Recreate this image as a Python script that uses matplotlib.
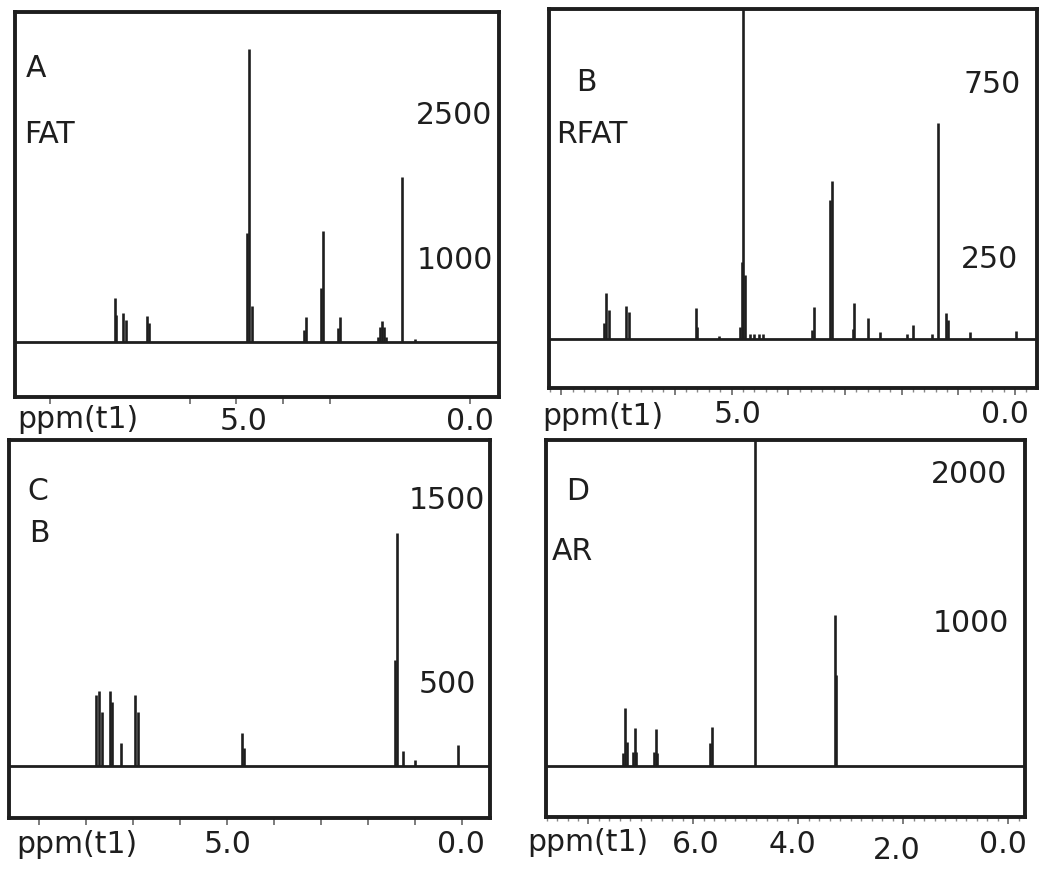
import matplotlib
matplotlib.use("Agg")
import matplotlib.pyplot as plt
import matplotlib.transforms as mtransforms
import numpy as np

plt.rcParams['font.family'] = ['DejaVu Sans']

# ---------------- data ----------------
# Panel A: FAT
a_ppm = [7.60, 7.57, 7.42, 7.37, 6.92, 6.87, 4.78, 4.74, 4.67, 3.55, 3.51,
         3.20, 3.15, 2.83, 2.78, 1.97, 1.92, 1.88, 1.84, 1.79, 1.45, 1.18]
a_int = [590, 411, 428, 359, 400, 331, 1258, 3162, 504, 255, 393,
         687, 1280, 276, 393, 180, 290, 352, 290, 180, 1841, 165]
a_base = 130
a_ylabels = [2500, 1000]

# Panel B: RFAT
b_ppm = [7.25, 7.21, 7.16, 6.86, 6.81, 5.63, 5.60, 5.22, 4.85, 4.81, 4.79,
         4.76, 4.68, 4.60, 4.52, 4.45, 3.58, 3.55, 3.26, 3.22, 2.86, 2.83,
         2.60, 2.38, 1.91, 1.79, 1.47, 1.35, 1.22, 1.18, 0.79, -0.02]
b_int = [61, 147, 98, 109, 93, 104, 50, 23, 50, 236, 1000,
         198, 31, 31, 31, 31, 41, 106, 412, 469, 45, 117,
         74, 36, 29, 55, 31, 633, 91, 69, 36, 38]
b_base = 15
b_ylabels = [750, 250]

# Panel C: B
c_ppm = [7.79, 7.72, 7.66, 7.48, 7.43, 7.25, 6.95, 6.89, 4.67, 4.63,
         1.41, 1.38, 1.24, 0.99, 0.07]
c_int = [429, 451, 339, 451, 392, 167, 429, 339, 225, 141,
         620, 1308, 125, 76, 158]
c_base = 43
c_ylabels = [1500, 500]

# Panel D: AR
d_ppm = [7.34, 7.30, 7.27, 7.16, 7.12, 7.09, 6.75, 6.72, 6.69, 5.68, 5.65,
         4.82, 3.31, 3.28]
d_int = [114, 415, 192, 125, 285, 125, 125, 277, 116, 181, 290,
         2300, 1040, 638]
d_base = 31
d_ylabels = [2000, 1000]

# tick marks and labelled ppm values
a_ticks = [9, 6, 5, 4, 3, 0]
a_xlabels = [5.0, 0.0]
b_ticks = [8, 7, 6, 5, 4, 3, 2, 1, 0]
b_xlabels = [5.0, 0.0]
c_ticks = [9, 8, 7, 6, 5, 4, 3, 2, 1, 0]
c_xlabels = [5.0, 0.0]
d_ticks = [8, 6, 4, 2, 0]
d_xlabels = [6.0, 4.0, 2.0, 0.0]

# ---------------- figure ----------------
W, H = 1050, 871
DPI = 100
fig = plt.figure(figsize=(W / DPI, H / DPI), dpi=DPI)
FS = 21.5
INK = '#1e1e1e'
DIGIT_HALF = 10.9  # px from baseline to digit centre


def px_rect(x0, y0, x1, y1):
    return [x0 / W, 1 - y1 / H, (x1 - x0) / W, (y1 - y0) / H]


def panel(rect, ppm, inten, base, xlim, ylim, ticks, minor, xlabels, xlabel_off,
          ylabels, ylabel_x, letter, letter_pos, name, name_pos, ppm_pos):
    ax = fig.add_axes(rect)
    ax.set_xlim(*xlim)
    ax.set_ylim(*ylim)
    ax.axhline(base, color=INK, lw=2.0, zorder=2)
    ax.vlines(ppm, base, inten, color=INK, lw=1.9, zorder=3)
    for s in ax.spines.values():
        s.set_linewidth(2.8)
        s.set_color(INK)
    ax.set_yticks([])
    ax.set_xticks(ticks)
    ax.set_xticklabels([])
    if minor is not None:
        ax.set_xticks(minor, minor=True)
    ax.tick_params(axis='x', which='major', direction='out', length=5,
                   width=1.2, color='#666666')
    ax.tick_params(axis='x', which='minor', direction='out', length=3,
                   width=1.0, color='#888888')
    # ppm labels under the frame
    xtrans = mtransforms.blended_transform_factory(ax.transData, ax.transAxes)
    for v, (dx, dy) in zip(xlabels, xlabel_off):
        t = mtransforms.offset_copy(xtrans, fig, x=dx, y=-(dy + DIGIT_HALF),
                                    units='dots')
        ax.text(v, 0, f'{v:.1f}', ha='center', va='baseline', fontsize=FS,
                color=INK, transform=t, clip_on=False)
    # intensity labels inside the frame
    ytrans = mtransforms.blended_transform_factory(ax.transAxes, ax.transData)
    ytrans = mtransforms.offset_copy(ytrans, fig, y=-DIGIT_HALF, units='dots')
    for v, xx in zip(ylabels, ylabel_x):
        ax.text(xx, v, str(v), ha='right', va='baseline', fontsize=FS,
                color=INK, transform=ytrans)
    ax.text(letter_pos[0], letter_pos[1], letter, transform=ax.transAxes,
            ha='left', va='baseline', fontsize=FS, color=INK)
    ax.text(name_pos[0], name_pos[1], name, transform=ax.transAxes,
            ha='left', va='baseline', fontsize=FS, color=INK)
    ax.text(ppm_pos[0], ppm_pos[1], 'ppm(t1)', transform=ax.transAxes,
            ha='left', va='center', fontsize=FS, color=INK)
    return ax


# Panel A
panel(px_rect(15, 12, 499, 397), a_ppm, a_int, a_base, (9.74, -0.62), (-438, 3545),
      a_ticks, None, a_xlabels, [(7, 22), (0, 22)], a_ylabels, [0.9855, 0.987],
      'A', (0.023, 0.831), 'FAT', (0.019, 0.660), (0.004, -0.058))

# Panel B
panel(px_rect(549, 9, 1037, 388), b_ppm, b_int, b_base, (8.22, -0.39), (-125, 960),
      b_ticks, np.arange(-0.2, 8.3, 0.2), b_xlabels, [(6, 24), (-10, 24)],
      b_ylabels, [0.967, 0.961],
      'B', (0.056, 0.784), 'RFAT', (0.014, 0.647), (-0.013, -0.074))

# Panel C
panel(px_rect(9, 440, 490, 818), c_ppm, c_int, c_base, (9.63, -0.60), (-239, 1815),
      c_ticks, None, c_xlabels, [(1, 24), (-1, 24)], c_ylabels, [0.9896, 0.972],
      'C', (0.038, 0.841), 'B', (0.042, 0.731), (0.015, -0.071))

# Panel D
panel(px_rect(546, 440, 1025, 817), d_ppm, d_int, d_base, (8.81, -0.32), (-313, 2212),
      d_ticks, np.arange(-0.2, 8.9, 0.2), d_xlabels,
      [(2, 25), (-6, 25), (-7, 31), (-5, 25)], d_ylabels, [0.963, 0.967],
      'D', (0.042, 0.841), 'AR', (0.011, 0.682), (-0.039, -0.068))

fig.savefig('out.png', dpi=DPI, facecolor='white')
